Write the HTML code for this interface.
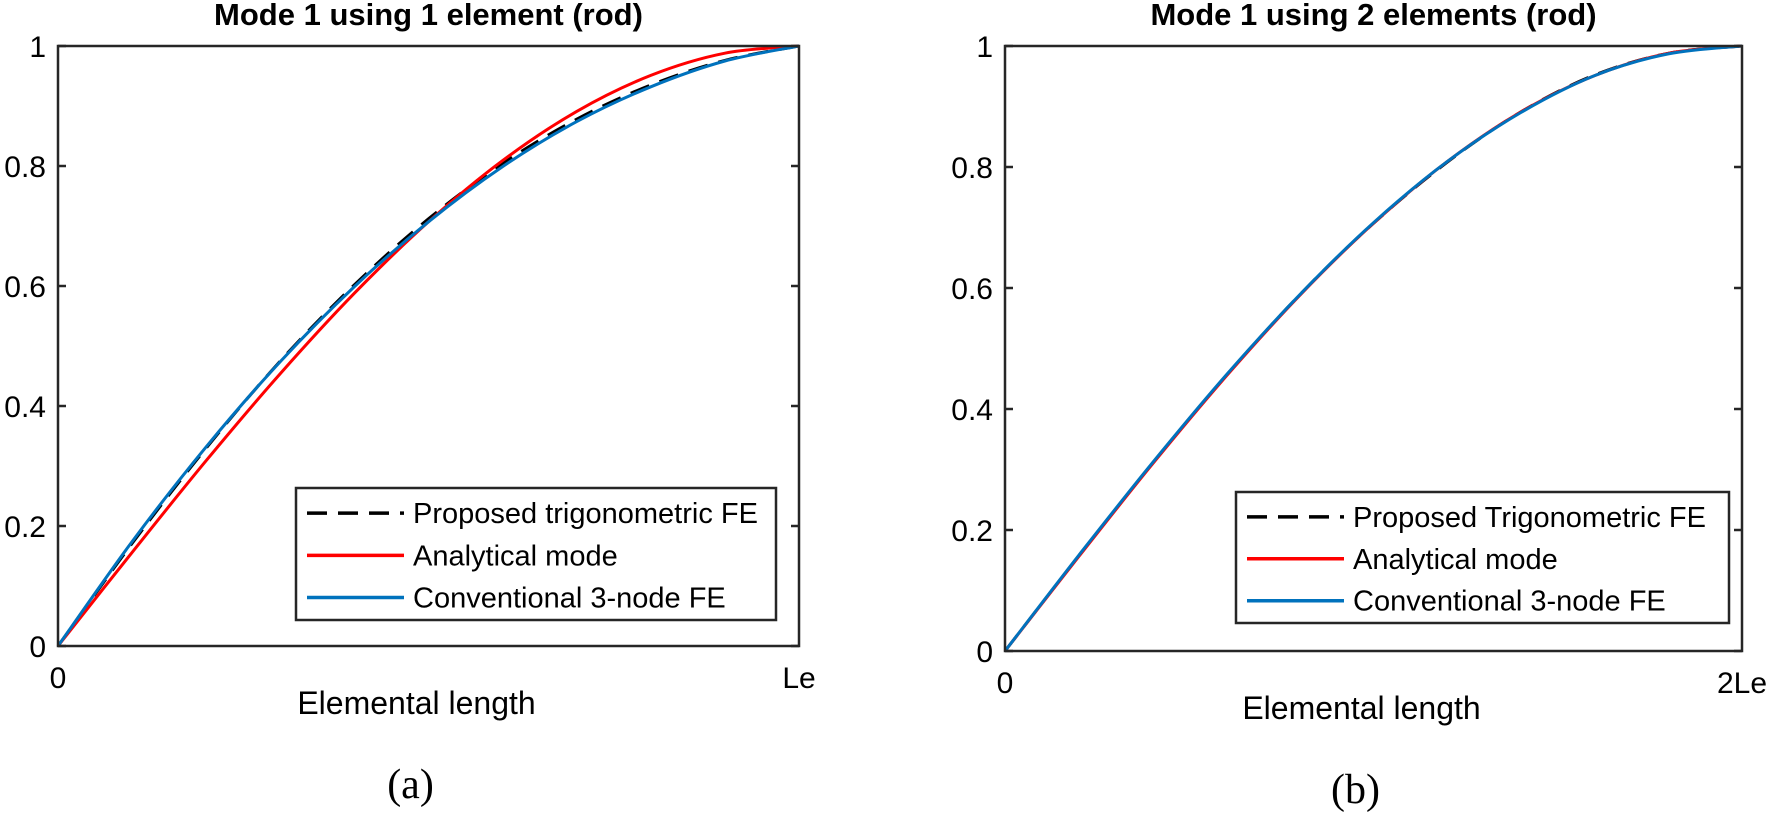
<!DOCTYPE html>
<html><head><meta charset="utf-8">
<style>
body{margin:0;background:#fff;}
svg{display:block;font-family:"Liberation Sans",sans-serif;}
</style></head>
<body>
<svg id="fig" width="1772" height="817" viewBox="0 0 1772 817" xmlns="http://www.w3.org/2000/svg"></svg>
<script>
const xFrac = [0,0.1,0.2,0.3,0.4,0.5,0.6,0.7,0.8,0.9,1];
const yTicks = [0,0.2,0.4,0.6,0.8,1];
const yTickLabels = ['0','0.2','0.4','0.6','0.8','1'];
// panel (a)
const aAnalytical = [0,0.156,0.309,0.454,0.588,0.707,0.809,0.891,0.951,0.988,1];
const aConventional = [0,0.174,0.332,0.474,0.599,0.707,0.799,0.874,0.932,0.975,1];
const aProposed = [0,0.171,0.330,0.475,0.602,0.712,0.804,0.878,0.935,0.976,1];
// panel (b)
const bAnalytical = [0,0.156,0.309,0.454,0.588,0.707,0.809,0.891,0.951,0.988,1];
const bConventional = [0,0.158,0.311,0.456,0.589,0.708,0.809,0.890,0.951,0.987,1];
const bProposed = [0,0.157,0.310,0.455,0.589,0.707,0.808,0.891,0.952,0.988,1];

const NS='http://www.w3.org/2000/svg';
const svg=document.getElementById('fig');
function mk(tag,attrs,parent){const e=document.createElementNS(NS,tag);for(const k in attrs)e.setAttribute(k,attrs[k]);(parent||svg).appendChild(e);return e;}

const panels=[
 {id:'a',x0:58,x1:799,y0:46,y1:646,title:'Mode 1 using 1 element (rod)',xEnd:'Le',
  leg:{x:296,y:488,w:480,h:132,labels:['Proposed trigonometric FE','Analytical mode','Conventional 3-node FE']},
  an:aAnalytical,co:aConventional,pr:aProposed,cap:'(a)'},
 {id:'b',x0:1005,x1:1742,y0:46,y1:651,title:'Mode 1 using 2 elements (rod)',xEnd:'2Le',
  leg:{x:1236,y:492,w:493,h:131,labels:['Proposed Trigonometric FE','Analytical mode','Conventional 3-node FE']},
  an:bAnalytical,co:bConventional,pr:bProposed,cap:'(b)'}
];

panels.forEach(p=>{
 const g=mk('g',{});
 
 
 const sx=v=>p.x0+v*(p.x1-p.x0);
 const sy=v=>p.y1-v*(p.y1-p.y0);
 const pathOf=arr=>{
  const pts=xFrac.map((x,i)=>[sx(x),sy(arr[i])]);
  let d='M'+pts[0][0].toFixed(1)+' '+pts[0][1].toFixed(1);
  for(let i=0;i<pts.length-1;i++){
   const p0=pts[Math.max(0,i-1)],p1=pts[i],p2=pts[i+1],p3=pts[Math.min(pts.length-1,i+2)];
   const c1=[p1[0]+(p2[0]-p0[0])/6,p1[1]+(p2[1]-p0[1])/6];
   const c2=[p2[0]-(p3[0]-p1[0])/6,p2[1]-(p3[1]-p1[1])/6];
   d+=' C'+c1[0].toFixed(1)+' '+c1[1].toFixed(1)+' '+c2[0].toFixed(1)+' '+c2[1].toFixed(1)+' '+p2[0].toFixed(1)+' '+p2[1].toFixed(1);
  }
  return d;
 };
 const series=[
  {arr:p.pr,stroke:'#000',dash:'20 11',name:'series-proposed'},
  {arr:p.an,stroke:'#ff0000',dash:'',name:'series-analytical'},
  {arr:p.co,stroke:'#0072bd',dash:'',name:'series-conventional'}];
 series.forEach(s=>{
  const e=mk('path',{d:pathOf(s.arr),fill:'none',stroke:s.stroke,'stroke-width':3,'stroke-dasharray':s.dash||'none','stroke-linejoin':'round'},g);
  
  
 });
 const box=mk('rect',{x:p.x0,y:p.y0,width:p.x1-p.x0,height:p.y1-p.y0,fill:'none',stroke:'#262626','stroke-width':2.5},g);
 
 
 yTicks.forEach((t,i)=>{
  const y=sy(t);
  mk('line',{x1:p.x0,y1:y,x2:p.x0+8,y2:y,stroke:'#262626','stroke-width':2.5},g);
  mk('line',{x1:p.x1,y1:y,x2:p.x1-8,y2:y,stroke:'#262626','stroke-width':2.5},g);
  const tl=mk('text',{x:p.x0-12,y:y+11,'text-anchor':'end','font-size':30,fill:'#000'},g);
  tl.textContent=yTickLabels[i];
  
  
 });
 const x0l=mk('text',{x:p.x0,y:p.y1+42,'text-anchor':'middle','font-size':30},g);x0l.textContent='0';
 
 
 const x1l=mk('text',{x:p.x1,y:p.y1+42,'text-anchor':'middle','font-size':30},g);x1l.textContent=p.xEnd;
 
 
 const t=mk('text',{x:(p.x0+p.x1)/2,y:25,'text-anchor':'middle','font-size':31,'font-weight':'bold'},g);t.textContent=p.title;
 
 
 const xl=mk('text',{x:(p.x0+p.x1)/2-12,y:p.y1+68,'text-anchor':'middle','font-size':32},g);xl.textContent='Elemental length';
 
 
 const cap=mk('text',{x:(p.x0+p.x1)/2-18,y:p.y1+152,'text-anchor':'middle','font-size':42,'font-family':'Liberation Serif, serif'},g);cap.textContent=p.cap;
 
 
 const L=p.leg;
 const lg=mk('g',{},g);
 
 
 mk('rect',{x:L.x,y:L.y,width:L.w,height:L.h,fill:'#fff',stroke:'#262626','stroke-width':2.5},lg);
 const rows=[0.19,0.51,0.83];
 series.forEach((s,i)=>{
  const ry=L.y+rows[i]*L.h;
  mk('line',{x1:L.x+11,y1:ry,x2:L.x+108,y2:ry,stroke:s.stroke,'stroke-width':3.5,'stroke-dasharray':s.dash||'none'},lg);
  const tx=mk('text',{x:L.x+117,y:ry+10,'font-size':29},lg);tx.textContent=L.labels[i];
  
  
 });
});
</script>
</body></html>
